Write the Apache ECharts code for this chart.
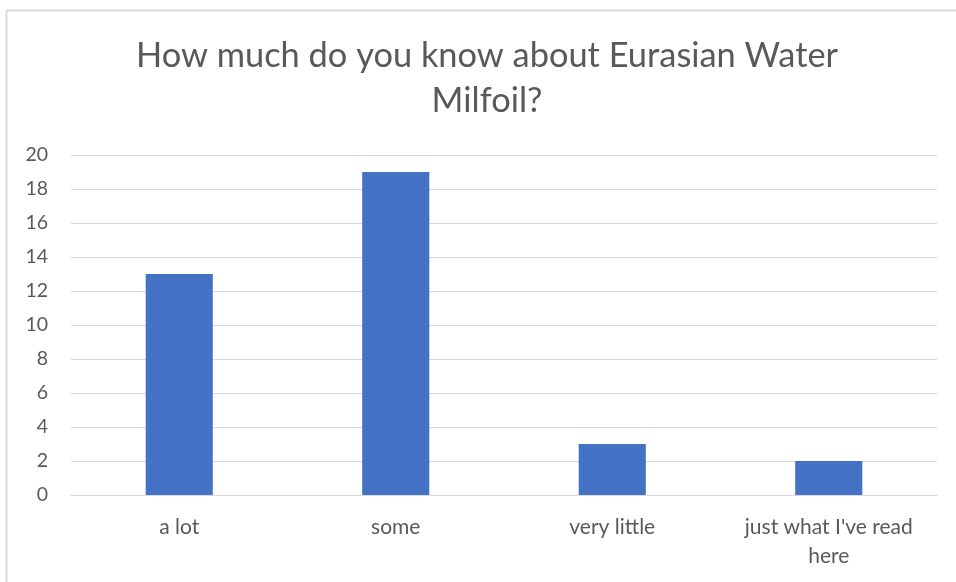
<!DOCTYPE html>
<html>
<head>
<meta charset="utf-8">
<script src="https://cdn.jsdelivr.net/npm/echarts@6/dist/echarts.min.js"></script>
<style>
html,body{margin:0;padding:0;background:#fff;}
#chart{width:956px;height:582px;}
</style>
</head>
<body>
<div id="chart"></div>
<script>
const titleText = "How much do you know about Eurasian Water\nMilfoil?";
const categories = ["a lot", "some", "very little", "just what I've read\nhere"];
const values = [13, 19, 3, 2];
const yTicks = { min: 0, max: 20, interval: 2 };

const chart = echarts.init(document.getElementById('chart'), null, { renderer: 'canvas' });
const font = "Lato, 'Open Sans', sans-serif";
chart.setOption({
  animation: false,
  backgroundColor: '#ffffff',
  title: {
    text: titleText,
    left: 482,
    textAlign: 'center',
    top: 28,
    textStyle: { fontFamily: font, fontSize: 34.4, fontWeight: 'normal', color: '#595959', lineHeight: 45 }
  },
  graphic: [
    { type: 'line', shape: { x1: 6.5, y1: 10.5, x2: 956, y2: 10.5 }, style: { stroke: '#d9d9d9', lineWidth: 2 } },
    { type: 'line', shape: { x1: 6.5, y1: 10.5, x2: 6.5, y2: 582 }, style: { stroke: '#d9d9d9', lineWidth: 2 } }
  ],
  grid: { left: 71, right: 19, top: 155, bottom: 87, containLabel: false },
  xAxis: {
    type: 'category',
    data: categories,
    axisLine: { show: true, lineStyle: { color: '#d9d9d9', width: 1 } },
    axisTick: { show: false },
    axisLabel: { fontFamily: font, fontSize: 21, color: '#595959', margin: 18, lineHeight: 29, interval: 0 }
  },
  yAxis: {
    type: 'value',
    min: yTicks.min, max: yTicks.max, interval: yTicks.interval,
    axisLine: { show: false },
    axisTick: { show: false },
    splitLine: { lineStyle: { color: '#d9d9d9', width: 1 } },
    axisLabel: { fontFamily: font, fontSize: 19.5, color: '#595959', margin: 23 }
  },
  series: [{
    type: 'bar',
    data: values,
    barWidth: '31%',
    itemStyle: { color: '#4472c4' }
  }]
});
</script>
</body>
</html>
